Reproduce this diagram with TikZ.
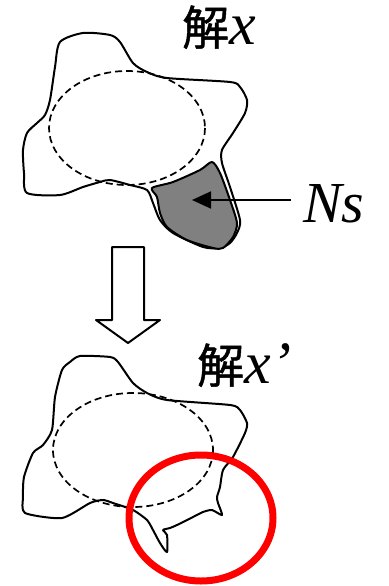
\documentclass[tikz,border=0pt]{standalone}
\usepackage{fontspec}
\setmainfont{Liberation Serif}
\newfontfamily\cjk{Noto Sans CJK JP}[FakeBold=1]
\usetikzlibrary{arrows.meta}
\begin{document}
\begin{tikzpicture}[
    x=1pt, y=-1pt,
    outline/.style={line width=2pt, line join=round},
    region/.style={line width=1.7pt, dash pattern=on 7pt off 4pt},
    pointer/.style={line width=1.8pt, -{Triangle[length=19pt,width=17pt]}},
    label/.style={inner xsep=4pt, inner ysep=0pt, anchor=base west},
    han/.style={font=\cjk\fontsize{47}{52}\selectfont},
    var/.style={font=\fontsize{60}{64}\selectfont\itshape}
]
\useasboundingbox (0,0) rectangle (388,586);

% Solution x (top)
\draw[outline] plot[smooth cycle, tension=0.45] coordinates {
  (60,42) (83,33) (110,35) (120,42) (133,63) (147,72) (167,78) (230,82)
  (240,87) (247,100) (245,113) (233,133) (222,150) (222,163) (230,187)
  (240,220) (237,233) (230,243) (220,248) (203,247) (173,233) (160,220)
  (153,203) (147,190) (130,185) (110,180) (100,182) (83,187) (60,195)
  (27,193) (24,173) (23,150) (27,133) (37,123) (45,115) (50,100) (55,67)};
\draw[region] (127,128) ellipse [x radius=78, y radius=57];

% Neighbourhood Ns
\draw[outline, fill=gray] plot[smooth cycle, tension=0.45] coordinates {
  (152,188) (173,182) (200,170) (212,162) (220,173) (230,200) (237,223)
  (233,237) (223,248) (213,248) (187,240) (167,227) (160,213) (157,197)};
\node[label, font=\fontsize{58}{62}\selectfont\itshape] (ns) at (299,222) {Ns};
\coordinate (nsfoot) at (291,200);
\coordinate (nstip) at (192,200);
\draw[pointer] (nsfoot) -- (nstip);

\node[label, han] (solx) at (178,45) {解};
\node[label, var] (solxvar) at ([xshift=-8pt]solx.base east) {x};

% Block arrow
\draw[outline] (112,247) -- (144,247) -- (144,320) -- (160,320) -- (128,343)
  -- (96,320) -- (112,320) -- cycle;

% Solution x' (bottom)
\draw[outline] plot[smooth cycle, tension=0.4] coordinates {
  (70,362) (80,356) (110,357) (118,362) (133,383) (147,393) (167,400)
  (230,405) (240,410) (247,423) (245,433) (233,457) (223,470) (220,487)
  (217,497) (218,503) (222,515) (212,510) (203,512) (193,517) (177,525)
  (170,528) (163,530) (167,535) (167,552) (160,543) (153,530) (147,520)
  (133,510) (113,503) (103,500) (90,503) (62,518) (25,513) (23,497)
  (24,477) (33,453) (43,445) (52,430) (55,397) (62,370)};
\draw[region] (133,450) ellipse [x radius=80, y radius=57];
\node[label, han] (solxp) at (193,383) {解};
\node[label, var] (solxpvar) at ([xshift=-8pt]solxp.base east) {x’};

% Highlight
\draw[red, line width=7pt] (201,518) ellipse [x radius=72, y radius=63];

\end{tikzpicture}
\end{document}
